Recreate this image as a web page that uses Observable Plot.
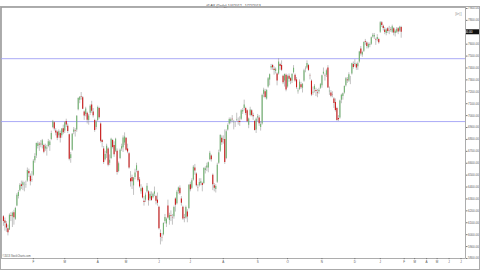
<!DOCTYPE html>
<html><head><meta charset="utf-8">
<script src="https://cdn.jsdelivr.net/npm/d3@7"></script>
<script src="https://cdn.jsdelivr.net/npm/@observablehq/plot@0.6"></script>
<style>
html,body{margin:0;padding:0;background:#fff;}
#chart{position:relative;width:480px;height:270px;overflow:hidden;font-family:"Liberation Sans",Arial,sans-serif;}
#border{position:absolute;left:0;top:6px;width:480px;height:264px;box-sizing:border-box;border:1px solid #aaa;pointer-events:none;}
</style></head><body><div id="chart"><div id="border"></div></div>
<script>
const title = "^DAX (Daily) 1/4/2012 - 1/22/2013";
const credit = "\u00a92013 StockCharts.com";
const monthLabels = ["J","F","M","A","M","J","J","A","S","O","N","D","J"];
const futureLabels = ["F","M","A","M","J","J"];
const futureOffsets = [2, 9, 17, 24, 32, 40]; // trading days after last bar
const levels = [7478, 6950];
const yTicks = [5800,5900,6000,6100,6200,6300,6400,6500,6600,6700,6800,6900,7000,7100,7200,7300,7400,7500,7600,7700,7800,7900];

// [open, high, low, close]
const jan12 = [[6150,6160,6070,6111],[6115,6140,6030,6095],[6090,6110,6020,6057],[6050,6080,5990,6017],[6040,6175,6035,6163],[6160,6185,6110,6152],[6150,6190,6060,6179],[6185,6205,6080,6143],[6130,6230,6120,6220],[6240,6345,6235,6332],[6320,6370,6300,6354],[6370,6430,6360,6416],[6420,6450,6380,6404],[6410,6450,6370,6436],[6420,6440,6360,6419],[6420,6450,6390,6422],[6450,6560,6440,6539],[6530,6550,6480,6511],[6490,6510,6410,6445],[6460,6530,6440,6458]];
const feb12 = [[6500,6630,6490,6616],[6620,6680,6600,6656],[6660,6770,6640,6766],[6740,6780,6720,6764],[6760,6775,6700,6753],[6760,6790,6730,6755],[6750,6800,6720,6788],[6750,6760,6680,6692],[6720,6760,6700,6739],[6720,6750,6660,6728],[6740,6800,6730,6781],[6750,6790,6700,6779],[6800,6870,6790,6849],[6900,6960,6890,6949],[6940,6950,6870,6887],[6870,6890,6830,6853],[6860,6870,6790,6810],[6830,6880,6810,6864],[6850,6870,6770,6810],[6830,6890,6810,6887],[6890,6920,6840,6856]];
const mar12 = [[6870,6950,6850,6941],[6950,6970,6900,6921],[6910,6930,6850,6866],[6840,6845,6620,6633],[6640,6690,6600,6671],[6710,6850,6700,6844],[6860,6900,6840,6880],[6870,6890,6820,6867],[6880,7000,6860,6995],[7050,7150,7040,7144],[7130,7160,7100,7154],[7160,7194,7130,7157],[7150,7160,7050,7054],[7030,7040,6960,6996],[7010,7070,6990,7056],[7020,7030,6930,6961],[6960,7010,6920,6996],[7020,7090,7000,7079],[7090,7120,7020,7037],[7030,7060,6980,6998],[6960,6970,6860,6875],[6900,6960,6880,6947]];
const apr12 = [[6960,7080,6950,7069],[7060,7070,6970,6983],[6930,6940,6770,6784],[6790,6800,6730,6775],[6720,6740,6590,6606],[6630,6700,6620,6674],[6680,6760,6640,6743],[6720,6730,6570,6583],[6600,6670,6580,6625],[6640,6810,6630,6801],[6790,6800,6720,6732],[6750,6780,6650,6671],[6700,6810,6690,6801],[6700,6720,6500,6523],[6530,6610,6520,6595],[6640,6720,6630,6710],[6720,6760,6700,6739],[6730,6830,6690,6812],[6770,6855,6750,6820]];
const may12 = [[6810,6815,6700,6710],[6720,6760,6680,6694],[6680,6690,6550,6561],[6470,6530,6400,6444],[6480,6500,6380,6444],[6410,6480,6330,6475],[6480,6550,6460,6518],[6540,6600,6520,6579],[6530,6540,6440,6453],[6460,6480,6390,6401],[6360,6420,6340,6386],[6390,6400,6300,6308],[6280,6320,6240,6271],[6290,6350,6270,6332],[6360,6430,6350,6406],[6360,6370,6240,6285],[6300,6360,6280,6339],[6320,6360,6280,6287],[6310,6350,6300,6339],[6340,6400,6320,6360],[6320,6330,6250,6281],[6290,6350,6240,6264]];
const jun12 = [[6230,6240,6040,6050],[6010,6040,5914,5978],[5970,6010,5940,5969],[6000,6100,5990,6094],[6110,6170,6090,6144],[6090,6140,6060,6130],[6240,6290,6130,6141],[6120,6180,6080,6161],[6160,6200,6110,6152],[6140,6170,6080,6138],[6150,6240,6130,6229],[6300,6310,6190,6248],[6260,6370,6250,6357],[6360,6400,6340,6392],[6390,6410,6330,6343],[6300,6320,6240,6263],[6230,6240,6120,6132],[6140,6170,6100,6136],[6140,6240,6130,6228],[6190,6210,6100,6149],[6220,6420,6210,6416]];
const jul12 = [[6420,6440,6360,6378],[6390,6470,6380,6452],[6460,6580,6450,6566],[6560,6590,6500,6535],[6510,6520,6400,6410],[6390,6420,6360,6387],[6410,6470,6400,6438],[6430,6470,6410,6444],[6430,6440,6360,6413],[6430,6560,6420,6557],[6540,6570,6510,6553],[6560,6600,6530,6577],[6560,6610,6520,6604],[6630,6700,6620,6684],[6660,6670,6610,6630],[6500,6510,6370,6419],[6410,6430,6360,6390],[6380,6420,6350,6405],[6440,6600,6430,6584],[6600,6710,6590,6689],[6700,6840,6690,6832],[6810,6830,6750,6772]];
const aug12 = [[6790,6830,6760,6796],[6800,6880,6590,6606],[6640,6880,6630,6865],[6880,6930,6870,6918],[6930,6980,6920,6967],[6950,6980,6930,6966],[6970,7000,6940,6966],[6940,6960,6880,6945],[6930,6950,6900,6929],[6960,7020,6950,6964],[6950,6980,6920,6947],[6950,6990,6910,6943],[6970,7050,6960,7040],[7030,7060,7010,7042],[7060,7130,7040,7089],[7060,7070,7000,7017],[7040,7050,6940,6949],[6920,6980,6890,6971],[7000,7070,6990,7048],[7040,7050,6990,7000],[7000,7020,6960,6991],[6950,6960,6870,6876],[6880,6980,6850,6970]];
const sep12 = [[6980,7010,6950,6990],[6980,7000,6910,6932],[6900,6950,6870,6926],[6930,7180,6920,7168],[7180,7230,7150,7214],[7200,7220,7140,7152],[7140,7220,7130,7211],[7240,7320,7230,7310],[7300,7350,7250,7343],[7400,7430,7380,7412],[7420,7430,7380,7403],[7390,7410,7340,7378],[7370,7400,7350,7389],[7350,7360,7250,7290],[7350,7478,7340,7451],[7430,7440,7380,7413],[7420,7460,7370,7380],[7330,7340,7260,7277],[7290,7350,7240,7345],[7340,7350,7200,7216]];
const oct12 = [[7240,7340,7230,7326],[7330,7350,7280,7305],[7310,7320,7260,7289],[7290,7350,7270,7347],[7360,7420,7350,7398],[7340,7350,7280,7291],[7300,7320,7220,7234],[7200,7230,7180,7206],[7220,7300,7210,7281],[7260,7280,7220,7233],[7230,7270,7190,7262],[7290,7390,7280,7377],[7390,7410,7360,7392],[7400,7460,7390,7437],[7420,7430,7370,7380],[7330,7350,7300,7328],[7290,7300,7160,7173],[7190,7240,7170,7196],[7220,7260,7190,7246],[7210,7230,7160,7203],[7190,7220,7150,7185],[7200,7230,7180,7212],[7230,7270,7220,7260]];
const nov12 = [[7250,7340,7230,7335],[7350,7400,7340,7364],[7330,7350,7290,7328],[7340,7390,7320,7377],[7400,7420,7230,7232],[7200,7240,7170,7205],[7190,7210,7150,7163],[7170,7200,7150,7168],[7140,7150,7060,7101],[7110,7140,7030,7043],[7060,7070,6952,6960],[6975,7000,6950,6965],[6980,7130,6970,7123],[7130,7180,7100,7172],[7160,7190,7130,7184],[7190,7250,7180,7244],[7250,7320,7240,7309],[7300,7320,7270,7292],[7290,7360,7280,7343],[7320,7330,7260,7320],[7350,7440,7340,7435],[7430,7450,7390,7405]];
const dec12 = [[7430,7470,7410,7435],[7430,7440,7380,7400],[7410,7450,7380,7436],[7450,7540,7440,7534],[7560,7580,7500,7518],[7510,7540,7490,7530],[7540,7620,7530,7614],[7620,7640,7590,7615],[7610,7620,7560,7580],[7570,7610,7560,7597],[7590,7610,7570,7597],[7600,7660,7590,7653],[7660,7690,7650,7674],[7660,7690,7640,7672],[7640,7650,7590,7636],[7640,7680,7620,7655],[7640,7650,7600,7612]];
const jan13 = [[7700,7790,7690,7779],[7780,7790,7740,7756],[7750,7760,7710,7732],[7720,7740,7680,7697],[7690,7730,7670,7720],[7730,7740,7690,7707],[7710,7750,7680,7708],[7720,7740,7700,7715],[7700,7760,7690,7746],[7730,7740,7670,7694],[7690,7720,7660,7709],[7700,7740,7690,7725],[7730,7740,7680,7702],[7710,7750,7700,7742],[7740,7750,7650,7700]];

const months = [jan12,feb12,mar12,apr12,may12,jun12,jul12,aug12,sep12,oct12,nov12,dec12,jan13];

const rows = [];
const monthTicks = [];
months.forEach((m, mi) => {
  if (mi > 0) monthTicks.push({i: rows.length, label: monthLabels[mi]});
  m.forEach(([o,h,l,c]) => rows.push({i: rows.length, o, h, l, c}));
});
const last = rows[rows.length - 1];
futureOffsets.forEach((off, k) => monthTicks.push({i: last.i + off, label: futureLabels[k]}));
const tickLabel = new Map(monthTicks.map(d => [d.i, d.label]));

const up = "#72b472", down = "#cc1a1a";
const fmt = d3.format(".2f");
// the last-price box replaces the axis label it sits on
const yTickFormat = d => Math.abs(d - last.c) < 50 ? "" : fmt(d);

const priceBox = (index, scales, values, dims) => {
  const g = d3.create("svg:g");
  const y = scales.y(last.c);
  const x0 = dims.width - dims.marginRight;
  g.append("rect").attr("x", x0 + 1).attr("y", y - 2.5).attr("width", 13).attr("height", 5).attr("fill", "#111");
  g.append("text").attr("x", x0 + 1.8).attr("y", y).attr("dy", "0.35em").attr("fill", "#fff")
    .attr("font-size", 3.2).text(fmt(last.c));
  return g.node();
};

const chart = Plot.plot({
  width: 480,
  height: 270,
  marginLeft: 1,
  marginRight: 15,
  marginTop: 7,
  marginBottom: 12,
  style: {fontFamily: "'Liberation Sans', Arial, sans-serif", fontSize: "3px", background: "#fff"},
  x: {domain: [-1.3, last.i + 43]},
  y: {domain: [5800, 7908]},
  marks: [
    Plot.frame({stroke: "#9a9a9a", strokeWidth: 0.8}),
    Plot.ruleY(levels, {stroke: "#a0a0f5", strokeWidth: 0.9}),
    Plot.ruleX(rows, {x: "i", y1: "l", y2: "h", stroke: "#9a9a9a", strokeWidth: 0.6}),
    Plot.ruleX(rows, {x: "i", y1: "o", y2: "c", stroke: d => d.c >= d.o ? up : down, strokeWidth: 1.1}),
    Plot.axisY(yTicks, {anchor: "right", tickSize: 1.5, tickPadding: 1, fontSize: 3, stroke: "#777", fill: "#555", tickFormat: yTickFormat, label: null}),
    Plot.axisX(monthTicks.map(d => d.i), {anchor: "bottom", tickSize: 1.2, tickPadding: 0.8, fontSize: 3, stroke: "#777", fill: "#555", tickFormat: d => tickLabel.get(d), label: null}),
    Plot.text([title], {frameAnchor: "top", dy: -3.5, fontSize: 3.6, fill: "#444"}),
    Plot.text([credit], {frameAnchor: "bottom-left", dx: 1, dy: -2, textAnchor: "start", fontSize: 2.6, fill: "#555"}),
    Plot.text(["[\u22b3|]"], {frameAnchor: "top-right", dx: -4, dy: 5, fontSize: 4, fill: "#999"}),
    priceBox
  ]
});
document.getElementById("chart").prepend(chart);
</script></body></html>
